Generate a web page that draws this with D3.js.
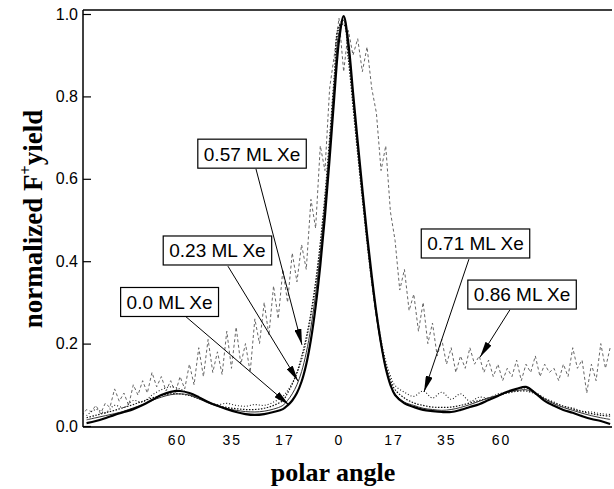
<!DOCTYPE html>
<html>
<head>
<meta charset="utf-8">
<script src="https://cdn.jsdelivr.net/npm/d3@7"></script>
<style>
  body { margin: 0; background: #fff; }
  svg { display: block; }
</style>
</head>
<body>
<div id="chart"></div>
<script>
// x is parallel momentum in units of sin(polar angle), 0 = surface normal
const xGrid = [-1.35,-1.3,-1.25,-1.2,-1.15,-1.1,-1.05,-1,-0.95,-0.9,-0.85,-0.8,-0.75,-0.7,-0.65,-0.6,-0.55,-0.5,-0.45,-0.4,-0.35,-0.3,
  -0.275,-0.25,-0.225,-0.2,-0.175,-0.15,-0.125,-0.1,-0.075,-0.05,-0.025,0,0.025,0.05,0.075,0.1,0.125,0.15,0.175,0.2,0.225,0.25,0.275,0.3,
  0.35,0.4,0.45,0.5,0.55,0.6,0.65,0.7,0.75,0.8,0.85,0.9,0.95,1,1.05,1.1,1.15,1.2,1.25,1.3,1.35,1.4,1.45]

const yield00 = [0.007,0.012,0.019,0.027,0.034,0.041,0.051,0.063,0.075,0.083,0.085,0.080,0.070,0.058,0.049,0.041,0.034,0.029,0.027,0.029,0.034,0.041,
  0.050,0.062,0.080,0.108,0.150,0.210,0.290,0.390,0.510,0.650,0.800,0.935,0.995,0.930,0.810,0.690,0.575,0.465,0.365,0.275,0.200,0.140,0.100,0.075,
  0.055,0.046,0.039,0.036,0.034,0.034,0.039,0.046,0.053,0.063,0.073,0.083,0.090,0.095,0.080,0.061,0.049,0.039,0.032,0.024,0.017,0.012,0.005]

const yield23 = [0.015,0.020,0.025,0.030,0.036,0.044,0.052,0.062,0.070,0.076,0.078,0.075,0.066,0.056,0.048,0.042,0.038,0.035,0.034,0.036,0.041,0.050,
  0.062,0.078,0.100,0.132,0.178,0.240,0.320,0.420,0.540,0.680,0.830,0.955,0.985,0.910,0.795,0.675,0.560,0.450,0.350,0.265,0.195,0.140,0.102,0.078,
  0.058,0.050,0.043,0.040,0.038,0.040,0.045,0.052,0.060,0.068,0.075,0.082,0.086,0.088,0.080,0.066,0.054,0.045,0.038,0.031,0.025,0.020,0.016]

const yield57 = [0.020,0.026,0.032,0.038,0.045,0.052,0.060,0.068,0.074,0.078,0.078,0.074,0.066,0.058,0.050,0.045,0.042,0.040,0.040,0.043,0.050,0.062,
  0.080,0.102,0.130,0.168,0.215,0.275,0.350,0.445,0.560,0.700,0.850,0.970,0.975,0.890,0.775,0.660,0.550,0.445,0.350,0.268,0.200,0.148,0.112,0.088,
  0.068,0.056,0.050,0.046,0.045,0.046,0.050,0.056,0.062,0.068,0.074,0.080,0.084,0.085,0.078,0.066,0.056,0.048,0.041,0.035,0.030,0.026,0.024]

const yield71 = [0.025,0.040,0.032,0.050,0.045,0.062,0.058,0.075,0.088,0.095,0.090,0.078,0.070,0.058,0.052,0.055,0.050,0.048,0.052,0.050,0.058,0.072,
  0.086,0.104,0.128,0.160,0.205,0.265,0.340,0.435,0.550,0.690,0.840,0.965,0.990,0.905,0.790,0.672,0.560,0.455,0.360,0.278,0.210,0.158,0.122,0.098,
  0.082,0.072,0.085,0.068,0.082,0.065,0.078,0.060,0.070,0.068,0.078,0.082,0.090,0.092,0.082,0.068,0.058,0.048,0.044,0.036,0.034,0.030,0.028]

// the 0.86 ML curve is noisy, so it is sampled on a finer grid
const xFine = [-1.375,-1.35,-1.325,-1.3,-1.275,-1.25,-1.225,-1.2,-1.175,-1.15,
  -1.125,-1.1,-1.075,-1.05,-1.025,-1,-0.975,-0.95,-0.925,-0.9,
  -0.875,-0.85,-0.825,-0.8,-0.775,-0.75,-0.725,-0.7,-0.675,-0.65,
  -0.625,-0.6,-0.575,-0.55,-0.525,-0.5,-0.475,-0.45,-0.425,-0.4,
  -0.375,-0.35,-0.325,-0.3,-0.275,-0.25,-0.225,-0.2,-0.175,-0.15,
  -0.125,-0.1,-0.075,-0.05,-0.025,0,0.025,0.05,0.075,0.1,
  0.125,0.15,0.175,0.2,0.225,0.25,0.275,0.3,0.325,0.35,
  0.375,0.4,0.425,0.45,0.475,0.5,0.525,0.55,0.575,0.6,
  0.625,0.65,0.675,0.7,0.725,0.75,0.775,0.8,0.825,0.85,
  0.875,0.9,0.925,0.95,0.975,1,1.025,1.05,1.075,1.1,
  1.125,1.15,1.175,1.2,1.225,1.25,1.275,1.3,1.325,1.35,
  1.375,1.4,1.425,1.45]

const yield86 = [0.025,0.040,0.035,0.050,0.030,0.055,0.045,0.090,0.060,0.080,
  0.050,0.100,0.075,0.110,0.080,0.130,0.095,0.120,0.085,0.110,
  0.080,0.120,0.090,0.150,0.100,0.190,0.120,0.210,0.130,0.180,
  0.125,0.230,0.140,0.240,0.150,0.200,0.130,0.260,0.200,0.300,
  0.220,0.340,0.260,0.380,0.300,0.420,0.350,0.440,0.380,0.550,
  0.480,0.680,0.620,0.820,0.900,0.990,0.860,0.960,0.900,0.940,
  0.860,0.920,0.820,0.760,0.620,0.680,0.520,0.450,0.330,0.380,
  0.280,0.320,0.230,0.300,0.200,0.250,0.170,0.210,0.150,0.190,
  0.130,0.170,0.140,0.190,0.150,0.170,0.130,0.160,0.120,0.150,
  0.110,0.140,0.120,0.160,0.110,0.150,0.130,0.170,0.120,0.150,
  0.130,0.140,0.110,0.150,0.120,0.190,0.140,0.160,0.080,0.150,
  0.110,0.200,0.140,0.190]

const seriesLabels = ["0.0 ML Xe", "0.23 ML Xe", "0.57 ML Xe", "0.71 ML Xe", "0.86 ML Xe"]

// polar angle ticks: position = sin(angle)
const xTickPos = [-0.866, -0.574, -0.292, 0, 0.292, 0.574, 0.866]
const xTickText = ["60", "35", "17", "0", "17", "35", "60"]
const yTicks = [0, 0.2, 0.4, 0.6, 0.8, 1.0]

const width = 614
const height = 489
const plot = {left: 83, right: 612, top: 10, bottom: 427}

const x = d3.scaleLinear().domain([-1.369, 1.46]).range([plot.left, plot.right])
const y = d3.scaleLinear().domain([0, 1]).range([426, 14])

const svg = d3.select("#chart")
  .append("svg")
  .attr("width", width)
  .attr("height", height)
  .style("font-family", "'Liberation Sans', Arial, sans-serif")

svg.append("defs").append("clipPath")
  .attr("id", "plotclip")
  .append("rect")
  .attr("x", plot.left)
  .attr("y", plot.top)
  .attr("width", plot.right - plot.left)
  .attr("height", plot.bottom - plot.top)

svg.select("defs").append("marker")
  .attr("id", "head")
  .attr("viewBox", "0 0 16 7")
  .attr("refX", 16)
  .attr("refY", 3.5)
  .attr("markerWidth", 16)
  .attr("markerHeight", 7)
  .attr("markerUnits", "userSpaceOnUse")
  .attr("orient", "auto")
  .append("path")
  .attr("d", "M0,0 L16,3.5 L0,7 Z")
  .attr("fill", "#000")

// series: label, x grid, values, style
const series = [
  {name: seriesLabels[4], xs: xFine, ys: yield86, stroke: "#666", width: 1, dash: "3,2.5", curve: d3.curveLinear},
  {name: seriesLabels[3], xs: xGrid, ys: yield71, stroke: "#222", width: 1.1, dash: "1,2", curve: d3.curveCatmullRom},
  {name: seriesLabels[2], xs: xGrid, ys: yield57, stroke: "#111", width: 1.2, dash: "1.5,1.5", curve: d3.curveCatmullRom},
  {name: seriesLabels[1], xs: xGrid, ys: yield23, stroke: "#333", width: 1, dash: null, curve: d3.curveCatmullRom},
  {name: seriesLabels[0], xs: xGrid, ys: yield00, stroke: "#000", width: 2.2, dash: null, curve: d3.curveCatmullRom}
]

const lines = svg.append("g").attr("clip-path", "url(#plotclip)")

series.forEach(s => {
  const line = d3.line()
    .x((d, i) => x(s.xs[i]))
    .y(d => y(d))
    .curve(s.curve)
  lines.append("path")
    .datum(s.ys)
    .attr("fill", "none")
    .attr("stroke", s.stroke)
    .attr("stroke-width", s.width)
    .attr("stroke-dasharray", s.dash)
    .attr("stroke-linejoin", "round")
    .attr("d", line)
})

// frame
svg.append("line")
  .attr("x1", plot.left).attr("x2", plot.right)
  .attr("y1", plot.top).attr("y2", plot.top)
  .attr("stroke", "#000").attr("stroke-width", 1.5)
svg.append("line")
  .attr("x1", plot.left).attr("x2", plot.right)
  .attr("y1", plot.bottom).attr("y2", plot.bottom)
  .attr("stroke", "#333").attr("stroke-width", 2)

// y axis, ticks pointing inward
const yAxis = svg.append("g")
  .attr("transform", `translate(${plot.left},0)`)
  .call(d3.axisLeft(y).tickValues(yTicks).tickSize(-8).tickSizeOuter(0).tickPadding(5).tickFormat(d3.format(".1f")))
yAxis.select(".domain").attr("d", `M0,${plot.top}V${plot.bottom}`).attr("stroke-width", 1.5)
yAxis.selectAll("text").attr("font-size", 16).attr("font-family", "'Liberation Sans', Arial, sans-serif")
yAxis.selectAll(".tick line").attr("stroke-width", 1.2)

// x axis: labels only
const xAxis = svg.append("g")
  .attr("transform", `translate(0,${plot.bottom})`)
  .call(d3.axisBottom(x).tickValues(xTickPos).tickSize(0).tickPadding(8).tickFormat((d, i) => xTickText[i]))
xAxis.select(".domain").remove()
xAxis.selectAll("text")
  .attr("font-size", 14)
  .attr("letter-spacing", 2)
  .attr("font-family", "'Liberation Sans', Arial, sans-serif")

// axis titles
svg.append("text")
  .attr("x", 333)
  .attr("y", 481)
  .attr("text-anchor", "middle")
  .attr("font-family", "'Liberation Serif', 'Times New Roman', serif")
  .attr("font-weight", "bold")
  .attr("font-size", 26)
  .text("polar angle")

const yTitle = svg.append("text")
  .attr("transform", "translate(42,219) rotate(-90)")
  .attr("text-anchor", "middle")
  .attr("font-family", "'Liberation Serif', 'Times New Roman', serif")
  .attr("font-weight", "bold")
  .attr("font-size", 27)
yTitle.append("tspan").text("normalized F")
yTitle.append("tspan").attr("font-size", 16).attr("dy", -11).text("+")
yTitle.append("tspan").attr("dy", 11).text("yield")

// annotations: box centre, arrow tail and tip in data coordinates
const notes = [
  {label: seriesLabels[2], box: [-0.465, 0.661], tail: [-0.444, 0.624], tip: [-0.198, 0.197]},
  {label: seriesLabels[1], box: [-0.650, 0.426], tail: [-0.594, 0.388], tip: [-0.219, 0.109]},
  {label: seriesLabels[0], box: [-0.906, 0.301], tail: [-0.818, 0.265], tip: [-0.267, 0.051]},
  {label: seriesLabels[3], box: [0.730, 0.443], tail: [0.695, 0.405], tip: [0.455, 0.083]},
  {label: seriesLabels[4], box: [0.979, 0.319], tail: [0.914, 0.282], tip: [0.754, 0.167]}
]

const ann = svg.append("g")
notes.forEach(n => {
  ann.append("line")
    .attr("x1", x(n.tail[0])).attr("y1", y(n.tail[1]))
    .attr("x2", x(n.tip[0])).attr("y2", y(n.tip[1]))
    .attr("stroke", "#000")
    .attr("stroke-width", 1)
    .attr("marker-end", "url(#head)")
})
notes.forEach(n => {
  const g = ann.append("g").attr("transform", `translate(${x(n.box[0])},${y(n.box[1])})`)
  const rect = g.append("rect").attr("fill", "#fff").attr("stroke", "#000").attr("stroke-width", 1.2)
  const t = g.append("text")
    .attr("text-anchor", "middle")
    .attr("dy", "0.36em")
    .attr("font-size", 19)
    .text(n.label)
  const bb = t.node().getBBox()
  rect.attr("x", -bb.width / 2 - 6).attr("y", -14.5)
    .attr("width", bb.width + 12).attr("height", 29)
})
</script>
</body>
</html>
